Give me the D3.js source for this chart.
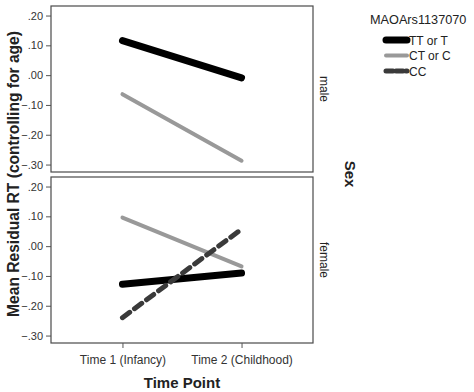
<!DOCTYPE html>
<html>
<head>
<meta charset="utf-8">
<script src="https://cdn.jsdelivr.net/npm/d3@7"></script>
<style>
  body { margin: 0; background: #fff; }
  svg { font-family: "Liberation Sans", Arial, sans-serif; }
  .axis path, .axis line { stroke: #555; }
  .axis text { fill: #333; font-size: 11px; }
  .axis.x text { font-size: 12px; }
</style>
</head>
<body>
<div id="chart"></div>
<script>
var timePoints = ["Time 1 (Infancy)", "Time 2 (Childhood)"];
var sexes = ["male", "female"];
var genotypes = ["TT or T", "CT or C", "CC"];
var yTicks = [0.2, 0.1, 0.0, -0.1, -0.2, -0.3];
// mean residual RT per sex / genotype, [time1, time2]
var maleTT = [0.116, -0.009];
var maleCT = [-0.064, -0.287];
var femaleTT = [-0.128, -0.090];
var femaleCT = [0.096, -0.068];
var femaleCC = [-0.240, 0.057];

var series = {
  male: [{ g: "TT or T", v: maleTT }, { g: "CT or C", v: maleCT }],
  female: [{ g: "TT or T", v: femaleTT }, { g: "CT or C", v: femaleCT }, { g: "CC", v: femaleCC }]
};

var style = {
  "TT or T": { color: "#000", width: 7, dash: null },
  "CT or C": { color: "#999", width: 4, dash: null },
  "CC": { color: "#3a3a3a", width: 5, dash: "9,6" }
};

var dim = { width: 474, height: 392, left: 51, right: 313 };
var panels = [{ key: "male", top: 6, bottom: 172 }, { key: "female", top: 177, bottom: 343 }];

var svg = d3.select("#chart").append("svg")
    .attr("width", dim.width)
    .attr("height", dim.height);

var x = d3.scalePoint()
    .domain(timePoints)
    .range([dim.left, dim.right])
    .padding(0.6);

panels.forEach(function(p, i) {
  var y = d3.scaleLinear()
      .domain([-0.325, 0.232])
      .range([p.bottom, p.top]);
  var g = svg.append("g");

  g.append("g")
      .attr("class", "axis")
      .attr("transform", "translate(" + dim.left + ",0)")
      .call(d3.axisLeft(y).tickValues(yTicks).tickSize(5).tickSizeOuter(0)
        .tickFormat(function(d) { return d3.format(".2f")(d).replace("0.", "."); }))
      .select(".domain").remove();

  var line = d3.line()
      .x(function(d, j) { return x(timePoints[j]); })
      .y(function(d) { return y(d); });

  g.selectAll("path.series")
      .data(series[p.key])
      .enter().append("path")
      .attr("class", "series")
      .attr("d", function(d) { return line(d.v); })
      .attr("fill", "none")
      .attr("stroke", function(d) { return style[d.g].color; })
      .attr("stroke-width", function(d) { return style[d.g].width; })
      .attr("stroke-dasharray", function(d) { return style[d.g].dash; })
      .attr("stroke-linecap", "round");

  g.append("rect")
      .attr("x", dim.left)
      .attr("y", p.top)
      .attr("width", dim.right - dim.left)
      .attr("height", p.bottom - p.top)
      .attr("fill", "none")
      .attr("stroke", "#4a4a4a")
      .attr("stroke-width", 1.2);

  g.append("text")
      .attr("transform", "translate(320," + (p.top + p.bottom) / 2 + ") rotate(90)")
      .attr("text-anchor", "middle")
      .attr("font-size", 12)
      .attr("fill", "#222")
      .text(p.key);

  if (i === panels.length - 1) {
    g.append("g")
        .attr("class", "axis x")
        .attr("transform", "translate(0," + p.bottom + ")")
        .call(d3.axisBottom(x).tickSize(5).tickPadding(7))
        .select(".domain").remove();
  }
});

svg.append("text")
    .attr("transform", "translate(19,174) rotate(-90)")
    .attr("text-anchor", "middle")
    .attr("font-size", 15.6)
    .attr("font-weight", "bold")
    .attr("fill", "#222")
    .text("Mean Residual RT (controlling for age)");

svg.append("text")
    .attr("x", (x(timePoints[0]) + x(timePoints[1])) / 2)
    .attr("y", 388)
    .attr("text-anchor", "middle")
    .attr("font-size", 15)
    .attr("font-weight", "bold")
    .attr("fill", "#222")
    .text("Time Point");

svg.append("text")
    .attr("transform", "translate(345,174) rotate(90)")
    .attr("text-anchor", "middle")
    .attr("font-size", 15)
    .attr("font-weight", "bold")
    .attr("fill", "#222")
    .text("Sex");

// legend
var legend = svg.append("g").attr("transform", "translate(370,0)");
legend.append("text")
    .attr("x", 0)
    .attr("y", 24)
    .attr("font-size", 12.7)
    .attr("fill", "#222")
    .text("MAOArs1137070");
var item = legend.selectAll("g.item")
    .data(genotypes)
    .enter().append("g")
    .attr("class", "item")
    .attr("transform", function(d, i) { return "translate(0," + (40 + i * 15.5) + ")"; });
item.append("line")
    .attr("x1", 16).attr("x2", 37)
    .attr("stroke", function(d) { return style[d].color; })
    .attr("stroke-width", function(d) { return style[d].width; })
    .attr("stroke-dasharray", function(d) { return style[d].dash ? "7,3" : null; })
    .attr("stroke-linecap", "round");
item.append("text")
    .attr("x", 39)
    .attr("y", 4.5)
    .attr("font-size", 12)
    .attr("fill", "#222")
    .text(function(d) { return d; });
</script>
</body>
</html>
